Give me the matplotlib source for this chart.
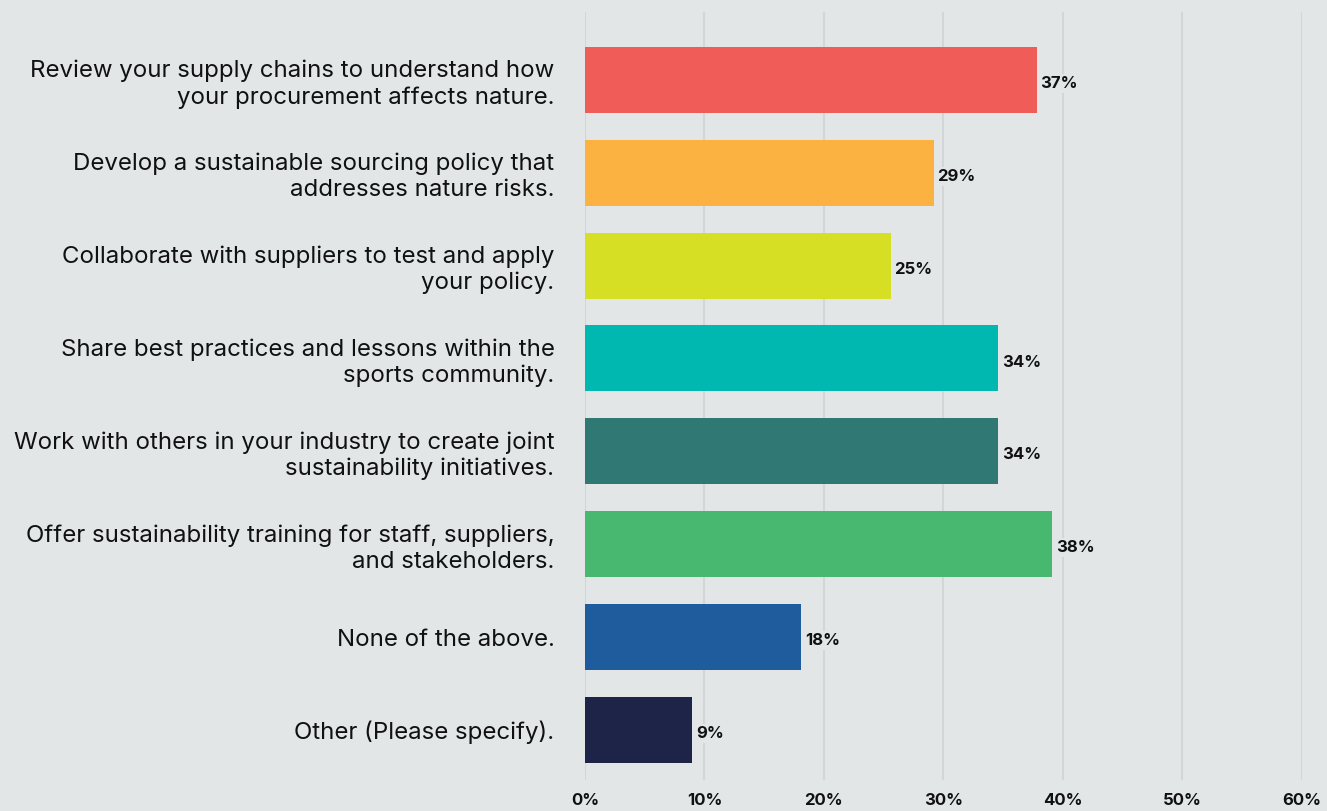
import matplotlib.pyplot as plt
import numpy as np

plt.rcParams['font.family'] = ['Inter', 'DejaVu Sans']

# survey answers, top to bottom
categories = [
    "Review your supply chains to understand how\nyour procurement affects nature.",
    "Develop a sustainable sourcing policy that\naddresses nature risks.",
    "Collaborate with suppliers to test and apply\nyour policy.",
    "Share best practices and lessons within the\nsports community.",
    "Work with others in your industry to create joint\nsustainability initiatives.",
    "Offer sustainability training for staff, suppliers,\nand stakeholders.",
    "None of the above.",
    "Other (Please specify).",
]
values = [37.8, 29.2, 25.6, 34.6, 34.6, 39.1, 18.1, 9.0]
value_labels = ["37%", "29%", "25%", "34%", "34%", "38%", "18%", "9%"]
colors = ["#F05C57", "#FBB241", "#D6DF23", "#00B8B0",
          "#307874", "#48B871", "#1F5C9E", "#1D2447"]
xticks = [0, 10, 20, 30, 40, 50, 60]

bg = "#E2E6E7"
fig = plt.figure(figsize=(13.27, 8.11), dpi=100, facecolor=bg)
ax = fig.add_axes([0.4408, 0.0382, 0.5403, 0.9470])
ax.set_facecolor(bg)

y = np.arange(len(categories))
ax.barh(y, values, height=0.71, color=colors, zorder=3)

for yi, v, lab in zip(y, values, value_labels):
    ax.text(v + 0.3, yi + 0.04, lab, va='center', ha='left', fontsize=12,
            fontweight='bold', color='#111111', zorder=4,
            bbox=dict(facecolor=bg, edgecolor='none', pad=1.5))

ax.set_xlim(0, 60)
ax.set_ylim(7.54, -0.73)
ax.set_xticks(xticks)
ax.set_xticklabels([f"{t}%" for t in xticks], fontsize=12, fontweight='bold', color='#111111')
ax.set_yticks(y)
ax.set_yticklabels(categories, fontsize=17.3, color='#111111', linespacing=1.22)
ax.tick_params(axis='both', length=0)
ax.tick_params(axis='y', pad=22)
ax.tick_params(axis='x', pad=9)
for lbl in ax.get_yticklabels():
    lbl.set_horizontalalignment('right')
    lbl.set_multialignment('right')

ax.grid(axis='x', color='#D2D6D8', linewidth=1.5, zorder=0)
ax.grid(axis='y', visible=False)
for s in ax.spines.values():
    s.set_visible(False)

fig.savefig("out.png", dpi=100, facecolor=bg)
